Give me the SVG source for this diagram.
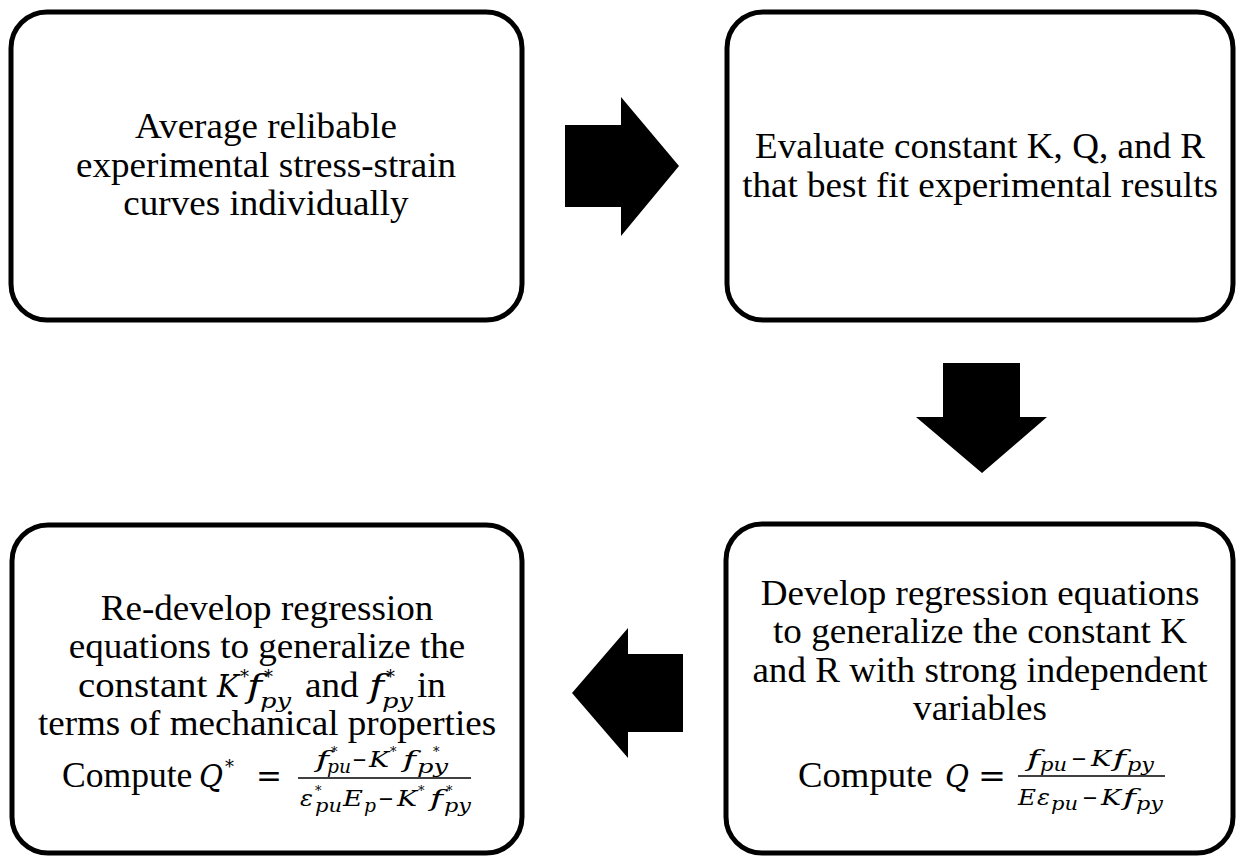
<svg xmlns="http://www.w3.org/2000/svg" width="1241" height="858" viewBox="0 0 1241 858">
<style>
.box{fill:#fff;stroke:#000;stroke-width:5}
.arr{fill:#000;stroke:none}
.t{font-family:"Liberation Serif","Times New Roman",serif;font-size:35px;fill:#000}
.m{font-family:"DejaVu Serif","Liberation Serif",serif;font-style:italic;fill:#000}
.r{font-family:"DejaVu Serif","Liberation Serif",serif;fill:#000}
.big{font-size:32px}
.mid{font-size:22px}
.sub{font-size:19px}
.sup{font-size:13px}
.bar{stroke:#000;stroke-width:1.5}
</style>
<rect width="1241" height="858" fill="#fff"/>
<g id="connectors">
<polygon class="arr" points="565,125 621,125 621,97 679,166 621,236 621,207 565,207"/>
<polygon class="arr" points="943,363 1020,363 1020,417 1047,417 982,473 916,417 943,417"/>
<polygon class="arr" points="683,654 628,654 628,628 572,693 628,758 628,732 683,732"/>
</g>
<g id="node1">
<rect class="box" x="11" y="12" width="511" height="308" rx="36"/>
<text class="t" text-anchor="middle" transform="translate(266,138) scale(1.06,1)">Average relibable</text>
<text class="t" text-anchor="middle" transform="translate(266,176.5) scale(1.06,1)">experimental stress-strain</text>
<text class="t" text-anchor="middle" transform="translate(266,215) scale(1.06,1)">curves individually</text>
</g>
<g id="node2">
<rect class="box" x="727" y="12" width="506" height="308" rx="36"/>
<text class="t" text-anchor="middle" transform="translate(980,158) scale(1.06,1)">Evaluate constant K, Q, and R</text>
<text class="t" text-anchor="middle" transform="translate(980,197) scale(1.06,1)">that best fit experimental results</text>
</g>
<g id="node3">
<rect class="box" x="726" y="524" width="507" height="329" rx="36"/>
<text class="t" text-anchor="middle" transform="translate(980,605) scale(1.06,1)">Develop regression equations</text>
<text class="t" text-anchor="middle" transform="translate(980,643) scale(1.06,1)">to generalize the constant K</text>
<text class="t" text-anchor="middle" transform="translate(980,682) scale(1.06,1)">and R with strong independent</text>
<text class="t" text-anchor="middle" transform="translate(980,720) scale(1.06,1)">variables</text>
<text class="t" transform="translate(798,787) scale(1.06,1)" textLength="127" lengthAdjust="spacingAndGlyphs">Compute</text>
<text class="m big" x="945" y="787" textLength="24" lengthAdjust="spacingAndGlyphs">Q</text>
<text class="r big" x="978" y="787" textLength="28" lengthAdjust="spacingAndGlyphs">=</text>
<line class="bar" x1="1018" y1="776" x2="1165" y2="776"/>
<text class="m mid" x="1027" y="766" textLength="13" lengthAdjust="spacingAndGlyphs">f</text>
<text class="m sub" x="1040" y="771" textLength="27" lengthAdjust="spacingAndGlyphs">pu</text>
<text class="r mid" x="1071" y="766" textLength="16" lengthAdjust="spacingAndGlyphs">−</text>
<text class="m mid" x="1091" y="766" textLength="20" lengthAdjust="spacingAndGlyphs">K</text>
<text class="m mid" x="1113" y="766" textLength="13" lengthAdjust="spacingAndGlyphs">f</text>
<text class="m sub" x="1127" y="771" textLength="27" lengthAdjust="spacingAndGlyphs">py</text>
<text class="m mid" x="1018" y="805" textLength="18" lengthAdjust="spacingAndGlyphs">E</text>
<text class="m mid" x="1037" y="805" textLength="13" lengthAdjust="spacingAndGlyphs">ε</text>
<text class="m sub" x="1051" y="810" textLength="27" lengthAdjust="spacingAndGlyphs">pu</text>
<text class="r mid" x="1082" y="805" textLength="16" lengthAdjust="spacingAndGlyphs">−</text>
<text class="m mid" x="1101" y="805" textLength="20" lengthAdjust="spacingAndGlyphs">K</text>
<text class="m mid" x="1123" y="805" textLength="13" lengthAdjust="spacingAndGlyphs">f</text>
<text class="m sub" x="1136" y="810" textLength="27" lengthAdjust="spacingAndGlyphs">py</text>
</g>
<g id="node4">
<rect class="box" x="12" y="525" width="510" height="328" rx="36"/>
<text class="t" text-anchor="middle" transform="translate(267,620) scale(1.06,1)">Re-develop regression</text>
<text class="t" text-anchor="middle" transform="translate(267,658) scale(1.06,1)">equations to generalize the</text>
<text class="t" transform="translate(78,697) scale(1.06,1)" textLength="122" lengthAdjust="spacingAndGlyphs">constant</text>
<text class="m big" x="217" y="697" textLength="22" lengthAdjust="spacingAndGlyphs">K</text>
<text class="r" x="240" y="683" font-size="18">*</text>
<text class="m big" x="247" y="697" textLength="15" lengthAdjust="spacingAndGlyphs">f</text>
<text class="r" x="264" y="683" font-size="18">*</text>
<text class="m" x="260" y="708" font-size="20" textLength="31" lengthAdjust="spacingAndGlyphs">py</text>
<text class="t" transform="translate(305,697) scale(1.06,1)">and</text>
<text class="m big" x="369" y="697" textLength="15" lengthAdjust="spacingAndGlyphs">f</text>
<text class="r" x="386" y="683" font-size="18">*</text>
<text class="m" x="382" y="708" font-size="20" textLength="31" lengthAdjust="spacingAndGlyphs">py</text>
<text class="t" transform="translate(417,697) scale(1.06,1)">in</text>
<text class="t" text-anchor="middle" transform="translate(267,735) scale(1.06,1)">terms of mechanical properties</text>
<text class="t" transform="translate(62,787) scale(1.06,1)" textLength="123" lengthAdjust="spacingAndGlyphs">Compute</text>
<text class="m big" x="199" y="787" textLength="24" lengthAdjust="spacingAndGlyphs">Q</text>
<text class="r" x="225" y="773" font-size="18">*</text>
<text class="r big" x="256" y="787" textLength="26" lengthAdjust="spacingAndGlyphs">=</text>
<line class="bar" x1="298" y1="778" x2="471" y2="778"/>
<text class="m mid" x="316" y="767" textLength="13" lengthAdjust="spacingAndGlyphs">f</text>
<text class="r sup" x="331" y="756">*</text>
<text class="m sub" x="327" y="773" textLength="24" lengthAdjust="spacingAndGlyphs">pu</text>
<text class="r mid" x="352" y="767" textLength="15" lengthAdjust="spacingAndGlyphs">−</text>
<text class="m mid" x="369" y="767" textLength="20" lengthAdjust="spacingAndGlyphs">K</text>
<text class="r sup" x="390" y="756">*</text>
<text class="m mid" x="403" y="767" textLength="13" lengthAdjust="spacingAndGlyphs">f</text>
<text class="r sup" x="433" y="756">*</text>
<text class="m sub" x="417" y="773" textLength="31" lengthAdjust="spacingAndGlyphs">py</text>
<text class="m mid" x="300" y="806" textLength="13" lengthAdjust="spacingAndGlyphs">ε</text>
<text class="r sup" x="315" y="795">*</text>
<text class="m sub" x="315" y="812" textLength="27" lengthAdjust="spacingAndGlyphs">pu</text>
<text class="m mid" x="343" y="806" textLength="20" lengthAdjust="spacingAndGlyphs">E</text>
<text class="m sub" x="364" y="812" textLength="12" lengthAdjust="spacingAndGlyphs">p</text>
<text class="r mid" x="378" y="806" textLength="16" lengthAdjust="spacingAndGlyphs">−</text>
<text class="m mid" x="397" y="806" textLength="20" lengthAdjust="spacingAndGlyphs">K</text>
<text class="r sup" x="418" y="795">*</text>
<text class="m mid" x="430" y="806" textLength="13" lengthAdjust="spacingAndGlyphs">f</text>
<text class="r sup" x="446" y="795">*</text>
<text class="m sub" x="444" y="812" textLength="27" lengthAdjust="spacingAndGlyphs">py</text>
</g>
</svg>
